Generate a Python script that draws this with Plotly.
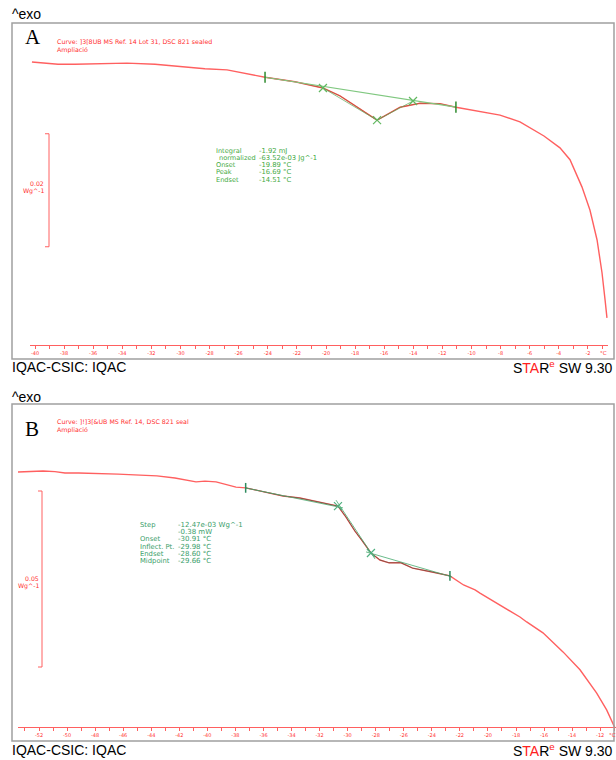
import plotly.graph_objects as go

# ---------------- data ----------------
# Panel A: DSC curve, temperature (°C) vs relative heat flow (W/g)
A_T = [-40.21, -38.42, -37.25, -35.53, -33.68, -31.75, -29.97, -28.32, -26.80, -25.57,
       -24.19, -22.13, -20.21, -19.04, -17.66, -16.49, -15.60, -14.91, -13.54, -12.16,
       -11.07, -9.42, -8.04, -6.67, -5.02, -3.92, -3.23, -2.41, -1.86, -1.37,
       -1.03, -0.82, -0.69]
A_HF = [0.0, -0.0004, -0.0004, -0.0003, -0.0002, -0.0004, -0.0008, -0.0012, -0.0014, -0.0020,
        -0.0027, -0.0035, -0.0046, -0.0060, -0.0083, -0.0103, -0.0090, -0.0080, -0.0073, -0.0074,
        -0.0080, -0.0087, -0.0094, -0.0106, -0.0131, -0.0152, -0.0173, -0.0221, -0.0262, -0.0315,
        -0.0373, -0.0421, -0.0453]
A_BASE_T = [-24.19, -11.07]
A_BASE_HF = [-0.0027, -0.0080]
A_TAN_T = [-20.21, -16.49, -14.02]
A_TAN_HF = [-0.0046, -0.0103, -0.0069]
A_LABELS = ["Integral", "normalized", "Onset", "Peak", "Endset"]
A_VALUES = ["-1.92 mJ", "-63.52e-03 Jg^-1", "-19.89 °C", "-16.69 °C", "-14.51 °C"]
A_TICKS = list(range(-40, 0))
A_SCALE = 0.02
A_SCALE_TOP = -0.0127

# Panel B
B_T = [-53.50, -52.64, -51.71, -50.86, -50.15, -49.18, -47.65, -46.37, -44.80, -43.59,
       -42.31, -40.81, -40.17, -39.38, -37.96, -37.27, -35.89, -34.61, -33.40, -31.97,
       -30.69, -30.12, -29.48, -29.01, -28.34, -27.70, -27.05, -26.20, -25.37, -23.99,
       -22.71, -21.74, -20.92, -20.57, -19.38, -17.72, -17.24, -16.08, -14.65, -13.44,
       -12.25, -11.54, -10.95]
B_HF = [0.0, 0.0001, 0.0003, 0.0001, -0.0003, -0.0003, -0.0004, -0.0006, -0.0009, -0.0011,
        -0.0017, -0.0028, -0.0026, -0.0028, -0.0043, -0.0045, -0.0057, -0.0068, -0.0074, -0.0085,
        -0.0097, -0.0128, -0.0168, -0.0193, -0.0230, -0.0250, -0.0258, -0.0258, -0.0273, -0.0284,
        -0.0295, -0.0321, -0.0335, -0.0344, -0.0372, -0.0412, -0.0426, -0.0457, -0.0511, -0.0562,
        -0.0628, -0.0676, -0.0727]
B_BASE1_T = [-37.32, -30.33]
B_BASE1_HF = [-0.0045, -0.0102]
B_STEEP_T = [-30.83, -28.05]
B_STEEP_HF = [-0.0080, -0.0247]
B_BASE2_T = [-28.69, -22.56]
B_BASE2_HF = [-0.0227, -0.0298]
B_CROSS_T = [-30.69, -28.34]
B_CROSS_HF = [-0.0097, -0.0230]
B_TICK_T = [-37.27, -22.71]
B_TICK_HF = [-0.0045, -0.0295]
B_LABELS = ["Step", "", "Onset", "Inflect. Pt.", "Endset", "Midpoint"]
B_VALUES = ["-12.47e-03 Wg^-1", "-0.38 mW", "-30.91 °C", "-29.98 °C", "-28.60 °C", "-29.66 °C"]
B_TICKS = list(range(-53, -10))
B_SCALE = 0.05
B_SCALE_TOP = -0.0054

# ---------------- layout helpers ----------------
W, H = 616, 760
def px(x):
    return x / W
def py(y):
    return 1 - y / H

RED = "#ff6060"
RED_TXT = "#ff3030"
GREEN_A = "#44aa44"
GREEN_B = "#3a9e6a"
FONT = "DejaVu Sans"

fig = go.Figure()

# panel A
fig.add_trace(go.Scatter(x=A_T, y=A_HF, mode="lines", line=dict(color=RED, width=1.4),
                         xaxis="x", yaxis="y", hoverinfo="skip"))
seg = [(t, h) for t, h in zip(A_T, A_HF) if A_BASE_T[0] <= t <= A_BASE_T[1]]
fig.add_trace(go.Scatter(x=[s[0] for s in seg], y=[s[1] for s in seg], mode="lines",
                         line=dict(color="rgba(150,80,40,0.55)", width=1), xaxis="x", yaxis="y"))
fig.add_trace(go.Scatter(x=A_BASE_T, y=A_BASE_HF, mode="lines", line=dict(color="#80c880", width=1.2),
                         xaxis="x", yaxis="y"))
fig.add_trace(go.Scatter(x=A_TAN_T, y=A_TAN_HF, mode="lines+markers",
                         line=dict(color="rgba(90,170,90,0.7)", width=1),
                         marker=dict(symbol="x-thin-open", size=8, color="#60b860",
                                     line=dict(color="#60b860", width=1.2)),
                         xaxis="x", yaxis="y"))
fig.add_trace(go.Scatter(x=A_BASE_T, y=A_BASE_HF, mode="markers",
                         marker=dict(symbol="line-ns-open", size=8, color="#2e8b2e",
                                     line=dict(color="#2e8b2e", width=1.5)),
                         xaxis="x", yaxis="y"))

# panel B
fig.add_trace(go.Scatter(x=B_T, y=B_HF, mode="lines", line=dict(color=RED, width=1.4),
                         xaxis="x2", yaxis="y2", hoverinfo="skip"))
segb = [(t, h) for t, h in zip(B_T, B_HF) if B_TICK_T[0] <= t <= B_TICK_T[1]]
fig.add_trace(go.Scatter(x=[s[0] for s in segb], y=[s[1] for s in segb], mode="lines",
                         line=dict(color="rgba(60,70,50,0.6)", width=1), xaxis="x2", yaxis="y2"))
for tt, hh in [(B_BASE1_T, B_BASE1_HF), (B_STEEP_T, B_STEEP_HF), (B_BASE2_T, B_BASE2_HF)]:
    fig.add_trace(go.Scatter(x=tt, y=hh, mode="lines", line=dict(color="rgba(70,170,110,0.8)", width=1),
                             xaxis="x2", yaxis="y2"))
fig.add_trace(go.Scatter(x=B_CROSS_T, y=B_CROSS_HF, mode="markers",
                         marker=dict(symbol="x-thin-open", size=8, color="#50b080",
                                     line=dict(color="#50b080", width=1.2)),
                         xaxis="x2", yaxis="y2"))
fig.add_trace(go.Scatter(x=B_TICK_T, y=B_TICK_HF, mode="markers",
                         marker=dict(symbol="line-ns-open", size=7, color="#2e8b5e",
                                     line=dict(color="#2e8b5e", width=1.5)),
                         xaxis="x2", yaxis="y2"))

# axis geometry (pixels)
A_X0, A_X1, A_Y0, A_Y1 = 30, 608, 345, 30
B_X0, B_X1, B_Y0, B_Y1 = 18, 616, 727, 415
def a_T(x): return -40 + (x - 35) / 14.55
def b_T(x): return -52 + (x - 39) / 14.03
A_UPP = 0.02 / 113.0
B_UPP = 0.05 / 176.0
def a_HF(y): return -(y - 62) * A_UPP
def b_HF(y): return -(y - 472) * B_UPP

def xax(dom, rng, ticks, anchor):
    return dict(domain=dom, range=rng, anchor=anchor, showgrid=False, zeroline=False,
                showline=True, linecolor=RED, linewidth=1,
                tickmode="array", tickvals=ticks,
                ticktext=[str(t) if t % 2 == 0 else " " for t in ticks],
                ticks="outside", ticklen=3, tickcolor=RED, tickwidth=1,
                tickfont=dict(family=FONT, size=5, color=RED_TXT), fixedrange=True)
def yax(dom, rng, anchor):
    return dict(domain=dom, range=rng, anchor=anchor, visible=False, fixedrange=True)

fig.update_layout(
    width=W, height=H, margin=dict(l=0, r=0, t=0, b=0),
    paper_bgcolor="white", plot_bgcolor="rgba(0,0,0,0)", showlegend=False,
    xaxis=xax([px(A_X0), px(A_X1)], [a_T(A_X0), a_T(A_X1)], A_TICKS, "y"),
    yaxis=yax([py(A_Y0), py(A_Y1)], [a_HF(A_Y0), a_HF(A_Y1)], "x"),
    xaxis2=xax([px(B_X0), px(B_X1)], [b_T(B_X0), b_T(B_X1)], B_TICKS, "y2"),
    yaxis2=yax([py(B_Y0), py(B_Y1)], [b_HF(B_Y0), b_HF(B_Y1)], "x2"),
)

shapes = []
# frames
for (y0, y1) in [(23, 359), (404, 741)]:
    shapes.append(dict(type="rect", xref="paper", yref="paper", x0=px(12), x1=px(614),
                       y0=py(y1), y1=py(y0), line=dict(color="#a0a0a0", width=1.5)))
# scale bars
for xb, top, sc, yr in [(49, A_SCALE_TOP, A_SCALE, "y"), (42, B_SCALE_TOP, B_SCALE, "y2")]:
    bot = top - sc
    shapes.append(dict(type="path", xref="paper", yref=yr,
                       path=f"M {px(xb-4)},{top} L {px(xb)},{top} L {px(xb)},{bot} L {px(xb-4)},{bot}",
                       line=dict(color=RED, width=1)))
fig.update_layout(shapes=shapes)

ann = []
def text(x, y, s, size=7, color="black", family=FONT, xa="left"):
    ann.append(dict(x=px(x), y=py(y), xref="paper", yref="paper", text=s, showarrow=False,
                    xanchor=xa, yanchor="middle", font=dict(family=family, size=size, color=color)))

star = ("S<span style='color:#ff2020'>TA</span>R<sup><span style='color:#ff2020'>e</span></sup> SW 9.30")
PANELS = [(14, 367, "A", 37, 42, "Curve: ]3[8UB MS Ref. 14 Lot 31, DSC 821 sealed"),
          (397, 750, "B", 429, 422, "Curve: ]!]3[&UB MS Ref. 14, DSC 821 seal")]
for top, bottom, letter, ly, cy, curve in PANELS:
    text(10, top, "^exo", 14, "black", "Liberation Sans")
    text(10, bottom, "IQAC-CSIC: IQAC", 14, "black", "Liberation Sans")
    text(615, bottom, star, 14, "black", "Liberation Sans", xa="right")
    text(23, ly, letter, 21, "black", "Liberation Serif")
    text(55, cy, curve, 6.3, RED_TXT)
    text(55, cy + 8, "Ampliació", 6.3, RED_TXT)

# °C labels
text(598, 353, "°C", 5.5, RED_TXT)
text(607, 735, "°C", 5.5, RED_TXT)
# scale labels
text(46, 183, "0.02", 6.2, RED_TXT, xa="right")
text(46, 191, "Wg^-1", 6.2, RED_TXT, xa="right")
text(41, 578, "0.05", 6.2, RED_TXT, xa="right")
text(41, 586, "Wg^-1", 6.2, RED_TXT, xa="right")

# result tables
A_ROWS = [151, 158, 165, 172.3, 179.6]
for i, (lab, val) in enumerate(zip(A_LABELS, A_VALUES)):
    text(214 + (3 if i == 1 else 0), A_ROWS[i], lab, 6.6, GREEN_A)
    text(257, A_ROWS[i], val, 6.8, GREEN_A)
B_ROWS = [525, 532.2, 539.4, 546.6, 553.8, 561]
for i, (lab, val) in enumerate(zip(B_LABELS, B_VALUES)):
    if lab:
        text(138, B_ROWS[i], lab, 6.8, GREEN_B)
    text(176, B_ROWS[i], val, 7, GREEN_B)

fig.update_layout(annotations=ann)

fig.write_html("out.html", config={"displayModeBar": False},
               post_script="document.body.style.margin='0px';")
